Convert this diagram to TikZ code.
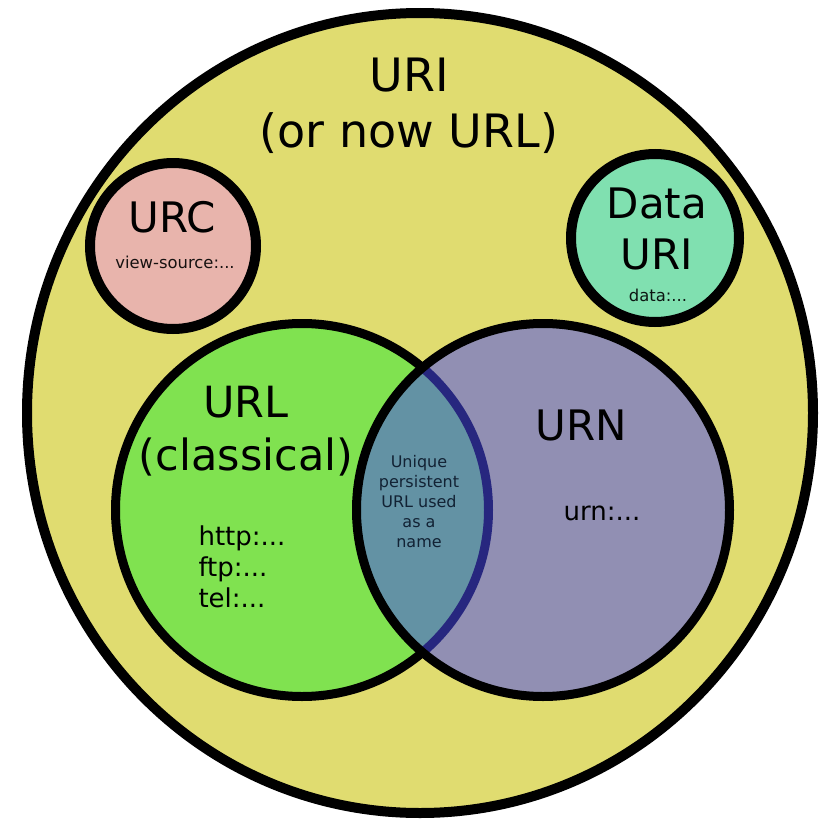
\documentclass[tikz,border=0pt]{standalone}
\usepackage{fontspec}
\setmainfont{DejaVu Sans}
\usetikzlibrary{shapes.geometric}
\definecolor{uriyellow}{RGB}{224,220,112}
\definecolor{urcpink}{RGB}{232,180,172}
\definecolor{datamint}{RGB}{128,224,176}
\definecolor{urlgreen}{RGB}{128,226,80}
\definecolor{urnblue}{RGB}{75,75,240}
\definecolor{lenstext}{RGB}{18,34,52}

\begin{document}
\begin{tikzpicture}[x=1pt,y=-1pt,
	set/.style={draw=black, line width=10pt, inner sep=0pt, circle},
	big/.style={font=\fontsize{46}{56}\selectfont, align=center},
	mid/.style={font=\fontsize{42}{51}\selectfont, align=center},
	code/.style={font=\fontsize{26}{31}\selectfont, align=left},
	small/.style={font=\fontsize{16.4}{20}\selectfont, align=center, text opacity=0.9}]
	\useasboundingbox (0,0) rectangle (825,819);
	
	\node[set, ellipse, fill=uriyellow, minimum width=786pt, minimum height=800pt] (uri) at (420,413) {};
	\node[set, fill=urcpink, minimum size=166pt] (urc) at (173,246) {};
	\node[set, fill=datamint, minimum size=168pt] (data) at (655,238) {};
	\node[set, fill=urlgreen, line width=9pt, minimum size=373pt] (url) at (302,510) {};
	\node[circle, fill=urnblue, fill opacity=0.53, minimum size=373pt, inner sep=0pt] (urnfill) at (543,510) {};
	\node[set, line width=9pt, minimum size=373pt] (urn) at (543,510) {};
	
	\node[big] (uritext) at (409,106) {URI\\(or now URL)};
	\node[mid] (urctext) at (172,217) {URC};
	\node[small] (urcex) at (175,262) {view-source:...};
	\node[mid] (datatext) at (657,229) {Data\\URI};
	\node[small] (dataex) at (658,295) {data:...};
	\node[mid, font=\fontsize{43}{53}\selectfont] (urltext) at (246,431) {URL\\(classical)};
	\node[code] (urlex) at (242,567) {http:...\\ftp:...\\tel:...};
	\node[mid] (urntext) at (581,425) {URN};
	\node[code] (urnex) at (602,513) {urn:...};
	\node[small, font=\fontsize{16}{20}\selectfont, text=lenstext, text opacity=1] (lenstext) at (419,502) {Unique\\persistent\\URL used\\as a\\name};
	
\end{tikzpicture}
\end{document}
